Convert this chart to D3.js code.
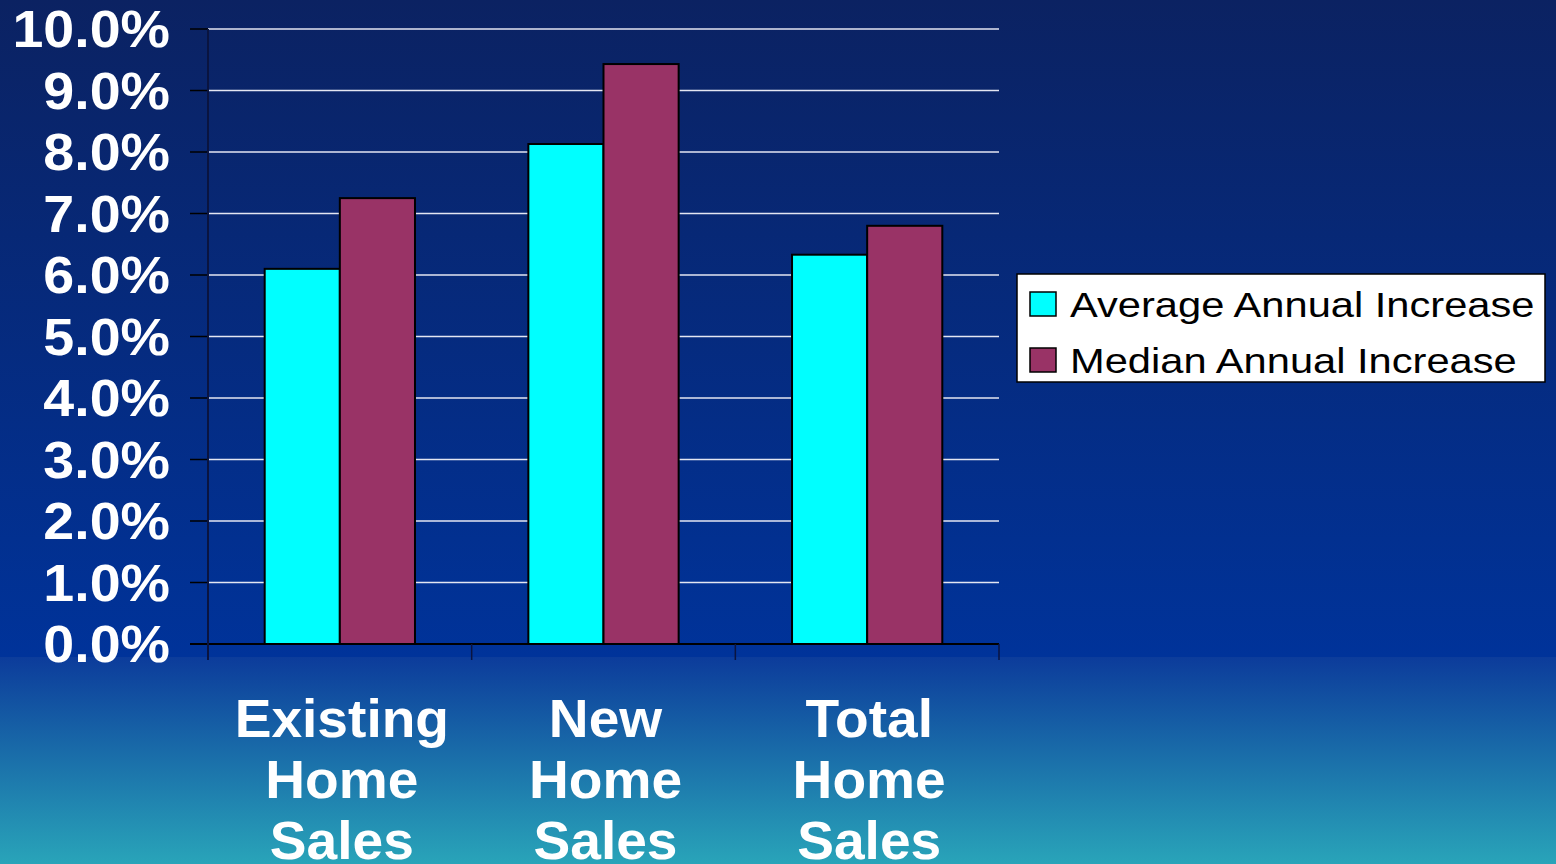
<!DOCTYPE html>
<html>
<head>
  <style type="text/css">
    body { margin: 0; overflow: hidden; }
    svg { display: block; font-family: Arial, "Liberation Sans", sans-serif; }
  </style>
</head>
<body>
  <svg width="1556" height="864" id="chart"></svg>

  <script src="https://d3js.org/d3.v7.min.js"></script>
  <script>

const categories = [['Existing', 'Home', 'Sales'], ['New', 'Home', 'Sales'], ['Total', 'Home', 'Sales']]
const seriesNames = ['Average Annual Increase', 'Median Annual Increase']
const averageIncrease = [6.1, 8.13, 6.33]
const medianIncrease = [7.25, 9.43, 6.8]
const yTicks = [0, 1, 2, 3, 4, 5, 6, 7, 8, 9, 10]
const colors = ['#00ffff', '#993366']

function translate(x, y) { return 'translate(' + x + ',' + y + ')' }

let svg = d3.select('#chart')
let defs = svg.append('defs')

// background: dark navy to blue, then blue to teal below the chart
let gradTop = defs.append('linearGradient').attr('id', 'bgTop').attr('x1', 0).attr('y1', 0).attr('x2', 0).attr('y2', 1)
gradTop.append('stop').attr('offset', 0).attr('stop-color', '#0b2262')
gradTop.append('stop').attr('offset', 1).attr('stop-color', '#00339a')
let gradBottom = defs.append('linearGradient').attr('id', 'bgBottom').attr('x1', 0).attr('y1', 0).attr('x2', 0).attr('y2', 1)
gradBottom.append('stop').attr('offset', 0).attr('stop-color', '#0c3c9b')
gradBottom.append('stop').attr('offset', 1).attr('stop-color', '#29a4b9')

svg.append('rect').attr('width', 1556).attr('height', 657).attr('fill', 'url(#bgTop)')
svg.append('rect').attr('y', 657).attr('width', 1556).attr('height', 207).attr('fill', 'url(#bgBottom)')

let left = 208, right = 999, yTop = 29, yBottom = 644

let x = d3.scaleBand().domain(d3.range(categories.length)).range([left, right])
// the pair of bars sits in the middle of each band (Excel gap width ~75%)
let x1 = d3.scaleBand().domain(d3.range(seriesNames.length))
  .range([x.bandwidth() * 0.215, x.bandwidth() * 0.785])
let y = d3.scaleLinear().domain([0, 10]).range([yBottom, yTop])

let g = svg.append('g')

// gridlines
g.selectAll('line.grid')
  .data(yTicks.filter(d => d > 0))
  .enter().append('line')
    .attr('class', 'grid')
    .attr('x1', left).attr('x2', right)
    .attr('y1', d => y(d)).attr('y2', d => y(d))
    .attr('stroke', '#e4e6f2')
    .attr('stroke-width', 1.5)

// y tick marks
g.selectAll('line.ytick')
  .data(yTicks)
  .enter().append('line')
    .attr('class', 'ytick')
    .attr('x1', left - 18).attr('x2', left)
    .attr('y1', d => y(d)).attr('y2', d => y(d))
    .attr('stroke', '#000')
    .attr('stroke-width', 1.5)

// bars
let groups = g.selectAll('g.cat')
  .data(categories.map((c, i) => [averageIncrease[i], medianIncrease[i]]))
  .enter().append('g')
    .attr('class', 'cat')
    .attr('transform', (d, i) => translate(x(i), 0))

groups.selectAll('rect')
  .data(d => d)
  .enter().append('rect')
    .attr('x', (d, j) => x1(j))
    .attr('width', x1.bandwidth())
    .attr('y', d => y(d))
    .attr('height', d => y(0) - y(d))
    .attr('fill', (d, j) => colors[j])
    .attr('stroke', '#000')
    .attr('stroke-width', 2)

// axes
g.append('line')
  .attr('x1', left - 18).attr('x2', right)
  .attr('y1', yBottom).attr('y2', yBottom)
  .attr('stroke', '#000').attr('stroke-width', 2)
g.append('line')
  .attr('x1', left).attr('x2', left)
  .attr('y1', yTop).attr('y2', yBottom + 16)
  .attr('stroke', '#0a1440').attr('stroke-width', 2)
g.selectAll('line.xtick')
  .data(d3.range(1, categories.length + 1))
  .enter().append('line')
    .attr('class', 'xtick')
    .attr('x1', i => i < categories.length ? x(i) : right)
    .attr('x2', i => i < categories.length ? x(i) : right)
    .attr('y1', yBottom).attr('y2', yBottom + 16)
    .attr('stroke', '#0a1440').attr('stroke-width', 1.5)

// y labels
g.selectAll('text.ylab')
  .data(yTicks)
  .enter().append('text')
    .attr('class', 'ylab')
    .attr('transform', d => translate(170, y(d) + 18) + ' scale(1.09,1)')
    .attr('text-anchor', 'end')
    .attr('fill', '#fff')
    .attr('font-weight', 'bold')
    .attr('font-size', 51)
    .text(d => d.toFixed(1) + '%')

// category labels
let cat = g.selectAll('text.catlab')
  .data(categories)
  .enter().append('text')
    .attr('class', 'catlab')
    .attr('transform', (d, i) => translate(x(i) + x.bandwidth() / 2 + 2, 737) + ' scale(1.04,1)')
    .attr('text-anchor', 'middle')
    .attr('fill', '#fff')
    .attr('font-weight', 'bold')
    .attr('font-size', 53)
cat.selectAll('tspan')
  .data(d => d)
  .enter().append('tspan')
    .attr('x', 0)
    .attr('dy', (d, k) => k === 0 ? 0 : 61)
    .text(d => d)

// legend
let legend = svg.append('g').attr('transform', translate(1017, 274))
legend.append('rect')
  .attr('width', 528).attr('height', 108)
  .attr('fill', '#fff').attr('stroke', '#000').attr('stroke-width', 1.5)
let items = legend.selectAll('g.item')
  .data(seriesNames)
  .enter().append('g')
    .attr('class', 'item')
    .attr('transform', (d, i) => translate(13, 18 + i * 56))
items.append('rect')
  .attr('width', 26).attr('height', 24)
  .attr('fill', (d, i) => colors[i])
  .attr('stroke', '#000').attr('stroke-width', 1.5)
items.append('text')
  .attr('transform', translate(40, 25) + ' scale(1.19,1)')
  .attr('font-size', 35)
  .attr('fill', '#000')
  .text(d => d)

  </script>
</body>
</html>
